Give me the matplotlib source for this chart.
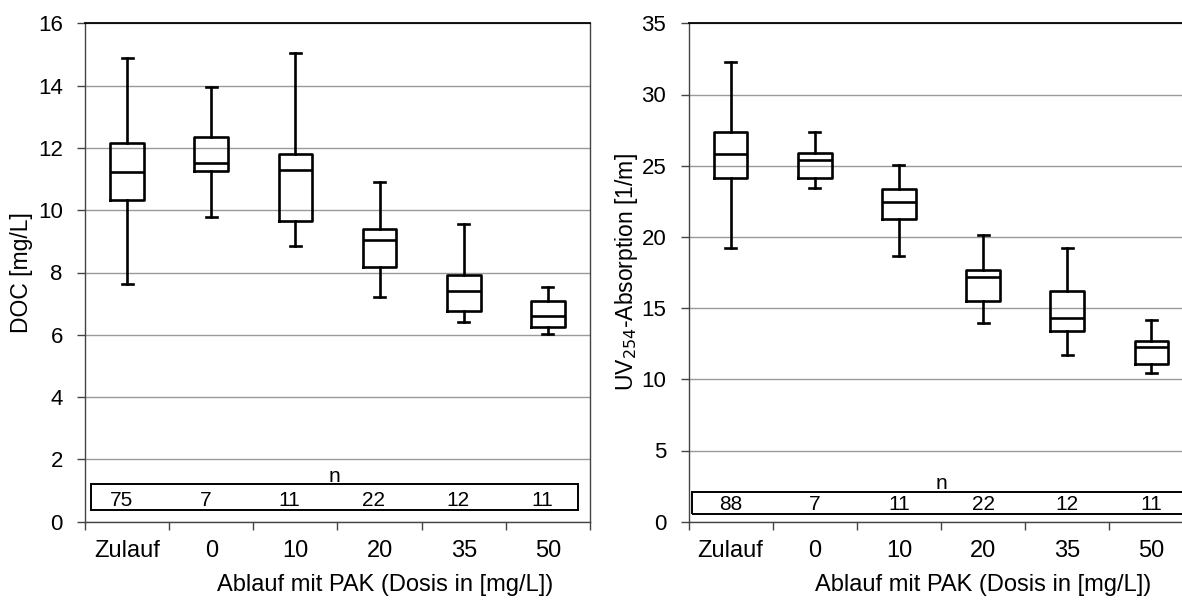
import numpy as np
import matplotlib
matplotlib.use("Agg")
import matplotlib.pyplot as plt
from matplotlib.patches import Rectangle

plt.rcParams["font.family"] = ["Liberation Sans", "DejaVu Sans"]

# ── Data ─────────────────────────────────────────────────────────────────────
categories = ["Zulauf", "0", "10", "20", "35", "50"]

doc_whislo = [7.64, 9.79, 8.86, 7.22, 6.41, 6.04]
doc_q1     = [10.34, 11.25, 9.66, 8.18, 6.78, 6.26]
doc_med    = [11.24, 11.50, 11.28, 9.04, 7.40, 6.61]
doc_q3     = [12.17, 12.34, 11.81, 9.41, 7.93, 7.10]
doc_whishi = [14.90, 13.94, 15.06, 10.90, 9.57, 7.54]
doc_n      = [75, 7, 11, 22, 12, 11]

uv_whislo = [19.24, 23.41, 18.66, 13.97, 11.68, 10.42]
uv_q1     = [24.11, 24.14, 21.24, 15.50, 13.41, 11.05]
uv_med    = [25.82, 25.38, 22.45, 17.21, 14.28, 12.29]
uv_q3     = [27.39, 25.87, 23.38, 17.70, 16.18, 12.67]
uv_whishi = [32.30, 27.37, 25.07, 20.16, 19.24, 14.19]
uv_n      = [88, 7, 11, 22, 12, 11]

W, H = 1182, 600
fig = plt.figure(figsize=(W / 100, H / 100), dpi=100)


def px_axes(x0, x1, ytop, ybot):
    return fig.add_axes([x0 / W, (H - ybot) / H, (x1 - x0) / W, (ybot - ytop) / H])


def draw_panel(ax, lo, q1, med, q3, hi, n, ymax, ystep, ylabel, ylab_x,
               xlab_x, nbox, n_y, num_dx, num_y):
    stats = [dict(whislo=a, q1=b, med=c, q3=d, whishi=e, fliers=[])
             for a, b, c, d, e in zip(lo, q1, med, q3, hi)]
    pos = np.arange(len(categories))
    lw = 1.9
    ax.bxp(stats, positions=pos, widths=0.4, showfliers=False,
           boxprops=dict(color="black", linewidth=lw),
           medianprops=dict(color="black", linewidth=lw),
           whiskerprops=dict(color="black", linewidth=lw),
           capprops=dict(color="black", linewidth=lw),
           capwidths=0.13, zorder=3)

    ax.set_xlim(-0.5, len(categories) - 0.5)
    ax.set_ylim(0, ymax)
    ax.set_yticks(np.arange(0, ymax + 0.1, ystep))
    ax.yaxis.grid(True, color="#9a9a9a", linewidth=1.0)
    ax.set_axisbelow(True)

    # category boundaries as major ticks, labels on minor ticks
    ax.set_xticks(np.arange(-0.5, len(categories), 1.0))
    ax.set_xticklabels([])
    ax.set_xticks(pos, minor=True)
    ax.set_xticklabels(categories, minor=True)
    ax.tick_params(axis="x", which="major", direction="out", length=6,
                   color="#444444", width=1)
    ax.tick_params(axis="x", which="minor", length=0, pad=13, labelsize=17)
    ax.tick_params(axis="y", direction="out", length=6, color="#444444",
                   width=1, labelsize=16, pad=10)

    for side in ("left", "bottom", "right"):
        ax.spines[side].set_color("#444444")
        ax.spines[side].set_linewidth(1.0)
    ax.spines["top"].set_color("black")
    ax.spines["top"].set_linewidth(1.3)

    ax.set_xlabel("Ablauf mit PAK (Dosis in [mg/L])", fontsize=17, va="top")
    ax.xaxis.set_label_coords(xlab_x, -0.104)
    ax.set_ylabel(ylabel, fontsize=16.5)
    ax.yaxis.set_label_coords(ylab_x, 0.5)

    # n table
    x0, x1, y0, y1 = nbox
    ax.add_patch(Rectangle((x0, y0), x1 - x0, y1 - y0, fill=False,
                           edgecolor="black", linewidth=1.4, zorder=4))
    ax.text((x0 + x1) / 2, n_y, "n", ha="center", va="baseline",
            fontsize=15, zorder=5)
    for p, v in zip(pos, n):
        ax.text(p + num_dx, num_y, str(v), ha="center", va="center",
                fontsize=15, zorder=5)


ax1 = px_axes(85, 590, 23.3, 521.7)
draw_panel(ax1, doc_whislo, doc_q1, doc_med, doc_q3, doc_whishi, doc_n,
           16, 2, "DOC [mg/L]", -0.103, 0.594,
           (-0.43, 5.357, 0.36, 1.2), 1.27, -0.07, 0.67)

ax2 = px_axes(688.5, 1193.5, 23.3, 521.7)
draw_panel(ax2, uv_whislo, uv_q1, uv_med, uv_q3, uv_whishi, uv_n,
           35, 5, "UV$_{254}$-Absorption [1/m]", -0.096, 0.583,
           (-0.46, 5.46, 0.52, 2.1), 2.3, 0.0, 1.21)

fig.savefig("out.png", dpi=100)
